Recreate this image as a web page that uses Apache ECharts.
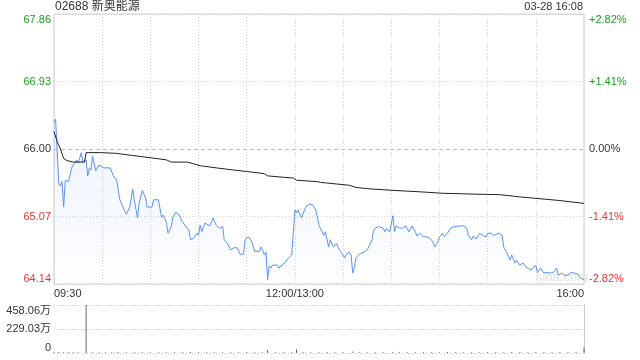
<!DOCTYPE html>
<html>
<head>
<meta charset="utf-8">
<script src="https://cdn.jsdelivr.net/npm/echarts@6/dist/echarts.min.js"></script>
<style>
    html, body {margin: 0; padding: 0; background: #fff;}
    #chart {width: 640px; height: 360px;}
</style>
</head>
<body>
<div id="chart"></div>
<script>
    // 基本信息
    const stockName = '02688 新奥能源';
    const stamp = '03-28 16:08';
    const prevClose = 66.00;
    const priceMin = 64.14, priceMax = 67.86, priceStep = 0.93;
    const volMax = 458.06, volStep = 229.03;
    const timeLabels = {0: '09:30', 150: '12:00/13:00', 330: '16:00'};

    // 分时价格 (分钟序号, 价格)
    const priceMinutes = [0, 1, 3, 4, 5, 6, 7, 8, 9, 11, 12, 14, 15, 17, 18, 20, 21, 22, 23, 24, 26, 28, 29, 31, 35, 37, 38, 39, 41, 43, 45, 47, 48, 49, 50, 52, 53, 55, 57, 58, 61, 62, 65, 67, 68, 70, 71, 73, 74, 76, 78, 80, 81, 84, 85, 87, 89, 90, 91, 92, 94, 95, 97, 99, 101, 103, 105, 106, 108, 110, 112, 114, 116, 118, 119, 121, 123, 125, 128, 129, 131, 132, 133, 134, 135, 136, 139, 140, 142, 144, 145, 146, 148, 149, 150, 151, 152, 154, 156, 157, 159, 161, 163, 165, 168, 169, 171, 172, 174, 176, 177, 179, 181, 182, 184, 185, 186, 187, 188, 190, 193, 195, 196, 198, 199, 200, 202, 203, 205, 206, 207, 209, 211, 212, 213, 215, 217, 219, 221, 223, 225, 226, 228, 230, 232, 234, 236, 237, 239, 240, 242, 243, 245, 247, 249, 253, 255, 257, 258, 260, 261, 263, 265, 267, 269, 270, 272, 274, 277, 279, 280, 282, 283, 284, 285, 287, 288, 290, 292, 294, 297, 298, 300, 301, 303, 305, 307, 309, 311, 313, 314, 316, 318, 320, 322, 324, 326, 328, 330];
    const prices = [66.37, 66.41, 65.53, 65.49, 65.55, 65.20, 65.57, 65.57, 65.55, 65.74, 65.78, 65.85, 65.81, 65.95, 65.82, 65.85, 65.63, 65.74, 65.71, 65.90, 65.70, 65.78, 65.79, 65.74, 65.74, 65.63, 65.64, 65.57, 65.30, 65.20, 65.10, 65.19, 65.30, 65.45, 65.30, 65.05, 65.26, 65.43, 65.33, 65.20, 65.20, 65.30, 65.30, 65.06, 65.09, 64.99, 64.84, 64.93, 65.06, 65.13, 65.09, 64.99, 64.98, 64.88, 64.75, 64.77, 64.84, 64.81, 64.95, 64.86, 64.98, 64.98, 64.94, 65.05, 64.95, 64.91, 64.93, 64.75, 64.70, 64.61, 64.64, 64.64, 64.55, 64.55, 64.75, 64.79, 64.73, 64.59, 64.59, 64.65, 64.54, 64.58, 64.20, 64.39, 64.36, 64.40, 64.40, 64.36, 64.40, 64.44, 64.43, 64.50, 64.54, 64.54, 65.16, 65.12, 65.16, 65.05, 65.16, 65.21, 65.24, 65.23, 65.16, 64.95, 64.81, 64.86, 64.65, 64.75, 64.65, 64.70, 64.64, 64.57, 64.50, 64.55, 64.58, 64.54, 64.29, 64.36, 64.50, 64.55, 64.58, 64.61, 64.65, 64.75, 64.88, 64.91, 64.93, 64.93, 64.91, 64.86, 64.91, 64.86, 65.08, 64.86, 64.94, 64.91, 64.91, 64.94, 64.86, 64.94, 64.86, 64.80, 64.84, 64.79, 64.79, 64.77, 64.72, 64.65, 64.72, 64.79, 64.84, 64.79, 64.84, 64.91, 64.93, 64.94, 64.94, 64.91, 64.81, 64.75, 64.80, 64.76, 64.84, 64.81, 64.79, 64.84, 64.84, 64.81, 64.84, 64.81, 64.65, 64.57, 64.58, 64.47, 64.54, 64.43, 64.47, 64.40, 64.43, 64.37, 64.33, 64.36, 64.40, 64.30, 64.36, 64.29, 64.30, 64.29, 64.30, 64.36, 64.26, 64.29, 64.26, 64.26, 64.30, 64.29, 64.28, 64.22, 64.20];

    // 均价
    const avgMinutes = [0, 2, 4, 6, 8, 12, 19, 20, 29, 39, 49, 60, 70, 73, 83, 91, 101, 112, 120, 131, 133, 143, 149, 151, 164, 166, 184, 188, 197, 211, 228, 242, 259, 278, 290, 300, 315, 330];
    const avgPrices = [66.24, 66.10, 66.00, 65.87, 65.84, 65.82, 65.82, 65.95, 65.95, 65.94, 65.91, 65.88, 65.85, 65.82, 65.82, 65.77, 65.74, 65.71, 65.69, 65.66, 65.63, 65.61, 65.60, 65.57, 65.55, 65.54, 65.50, 65.47, 65.45, 65.43, 65.41, 65.39, 65.38, 65.37, 65.34, 65.32, 65.29, 65.25];

    // 成交量 (万)
    const volMinutes = [0, 3, 6, 9, 12, 15, 20, 24, 28, 32, 36, 40, 45, 50, 55, 60, 65, 70, 75, 80, 85, 90, 95, 100, 105, 110, 115, 120, 125, 130, 133, 138, 143, 148, 151, 155, 160, 165, 170, 175, 180, 186, 190, 195, 200, 205, 211, 215, 220, 225, 230, 235, 240, 245, 250, 255, 260, 265, 270, 275, 280, 285, 290, 295, 300, 305, 310, 315, 320, 325, 330];
    const volumes = [12, 9, 8, 7, 8, 6, 458.06, 7, 6, 8, 6, 9, 7, 6, 8, 6, 7, 8, 6, 7, 9, 6, 7, 8, 6, 7, 6, 9, 7, 8, 30, 7, 6, 8, 36, 8, 7, 6, 9, 7, 8, 14, 7, 6, 8, 7, 12, 6, 8, 7, 6, 8, 7, 9, 6, 7, 8, 6, 9, 7, 8, 10, 7, 8, 9, 7, 8, 9, 7, 8, 55];

    const green = '#1ea01e';
    const red = '#f03232';
    const font = "Arial, 'Liberation Sans', 'Noto Sans CJK SC', sans-serif";

    const zip = (xs, ys) => xs.map((x, i) => [x, ys[i]]);
    const priceColor = v => v > prevClose + 1e-6 ? green : (v < prevClose - 1e-6 ? red : '#333');

    let myChart = echarts.init(document.getElementById('chart'));
    myChart.setOption({
        animation: false,
        textStyle: {fontFamily: font},
        graphic: [
            {type: 'text', left: 55, top: 1, style: {text: stockName, font: '12px ' + font, fill: '#333'}},
            {type: 'text', right: 57, top: 1, style: {text: stamp, font: '11px ' + font, fill: '#333'}},
            {type: 'text', left: 536, top: 271, style: {text: 'sina.com', font: '13px ' + font, fill: '#e4e4e4'}}
        ],
        grid: [
            {left: 54, right: 56, top: 14, height: 270, show: true, borderColor: '#ccc', borderWidth: 1, backgroundColor: 'transparent'},
            {left: 54, right: 56, top: 305, height: 48}
        ],
        xAxis: [
            {
                type: 'value', gridIndex: 0, min: 0, max: 330, interval: 30,
                axisLine: {show: false}, axisTick: {show: false},
                splitLine: {show: true, lineStyle: {color: '#d6d6d6', type: [1, 2]}},
                axisLabel: {
                    margin: 4, fontSize: 11, color: '#333',
                    alignMinLabel: 'left', alignMaxLabel: 'right',
                    formatter: v => timeLabels[v] || ''
                }
            },
            {
                type: 'value', gridIndex: 1, min: 0, max: 330, interval: 30,
                axisLine: {show: false}, axisTick: {show: false},
                axisLabel: {show: false}, splitLine: {show: false}
            }
        ],
        yAxis: [
            {
                type: 'value', gridIndex: 0, position: 'left', min: priceMin, max: priceMax, interval: priceStep,
                axisLine: {show: false}, axisTick: {show: false},
                splitLine: {show: true, lineStyle: {color: ['#ccc', '#d6d6d6', 'transparent', '#d6d6d6', '#ccc'], type: [1, 2]}},
                axisLabel: {
                    margin: 3, fontSize: 11, color: priceColor,
                    verticalAlignMinLabel: 'bottom', verticalAlignMaxLabel: 'top',
                    formatter: v => v.toFixed(2)
                }
            },
            {
                type: 'value', gridIndex: 0, position: 'right', min: priceMin, max: priceMax, interval: priceStep,
                axisLine: {show: false}, axisTick: {show: false}, splitLine: {show: false},
                axisLabel: {
                    margin: 5, fontSize: 11, color: priceColor,
                    verticalAlignMinLabel: 'bottom', verticalAlignMaxLabel: 'top',
                    formatter: v => {
                        let pct = (v - prevClose) / prevClose * 100;
                        if (Math.abs(pct) < 0.005) return '0.00%';
                        return (pct > 0 ? '+' : '') + pct.toFixed(2) + '%';
                    }
                }
            },
            {
                type: 'value', gridIndex: 1, position: 'left', min: 0, max: volMax, interval: volStep,
                axisLine: {show: false}, axisTick: {show: false},
                splitLine: {show: true, lineStyle: {color: '#ccc', type: [1, 2]}},
                axisLabel: {
                    margin: 3, fontSize: 11, color: '#333',
                    verticalAlignMinLabel: 'bottom', verticalAlignMaxLabel: 'top',
                    formatter: v => v === 0 ? '0' : v.toFixed(2) + '万'
                }
            },
            {
                type: 'value', gridIndex: 1, position: 'right', min: 0, max: volMax, interval: volStep,
                axisLine: {show: true, lineStyle: {color: '#ccc'}}, axisTick: {show: false},
                axisLabel: {show: false}, splitLine: {show: false}
            }
        ],
        series: [
            {
                name: '价格', type: 'line', xAxisIndex: 0, yAxisIndex: 0,
                data: zip(priceMinutes, prices), symbol: 'none',
                lineStyle: {color: '#5a92f2', width: 1},
                areaStyle: {
                    origin: 'start',
                    color: new echarts.graphic.LinearGradient(0, 0, 0, 1, [
                        {offset: 0, color: 'rgba(90,146,242,0.16)'},
                        {offset: 1, color: 'rgba(90,146,242,0.01)'}
                    ])
                },
                z: 3
            },
            {
                name: '均价', type: 'line', xAxisIndex: 0, yAxisIndex: 0,
                data: zip(avgMinutes, avgPrices), symbol: 'none',
                lineStyle: {color: '#222', width: 1},
                markLine: {
                    silent: true, symbol: 'none', label: {show: false},
                    lineStyle: {color: '#bbb', type: [4, 3], width: 1},
                    data: [{yAxis: prevClose}]
                },
                z: 4
            },
            {
                name: '成交量', type: 'bar', xAxisIndex: 1, yAxisIndex: 2,
                data: zip(volMinutes, volumes), barWidth: 1,
                itemStyle: {color: '#666'}
            }
        ]
    });
</script>
</body>
</html>
